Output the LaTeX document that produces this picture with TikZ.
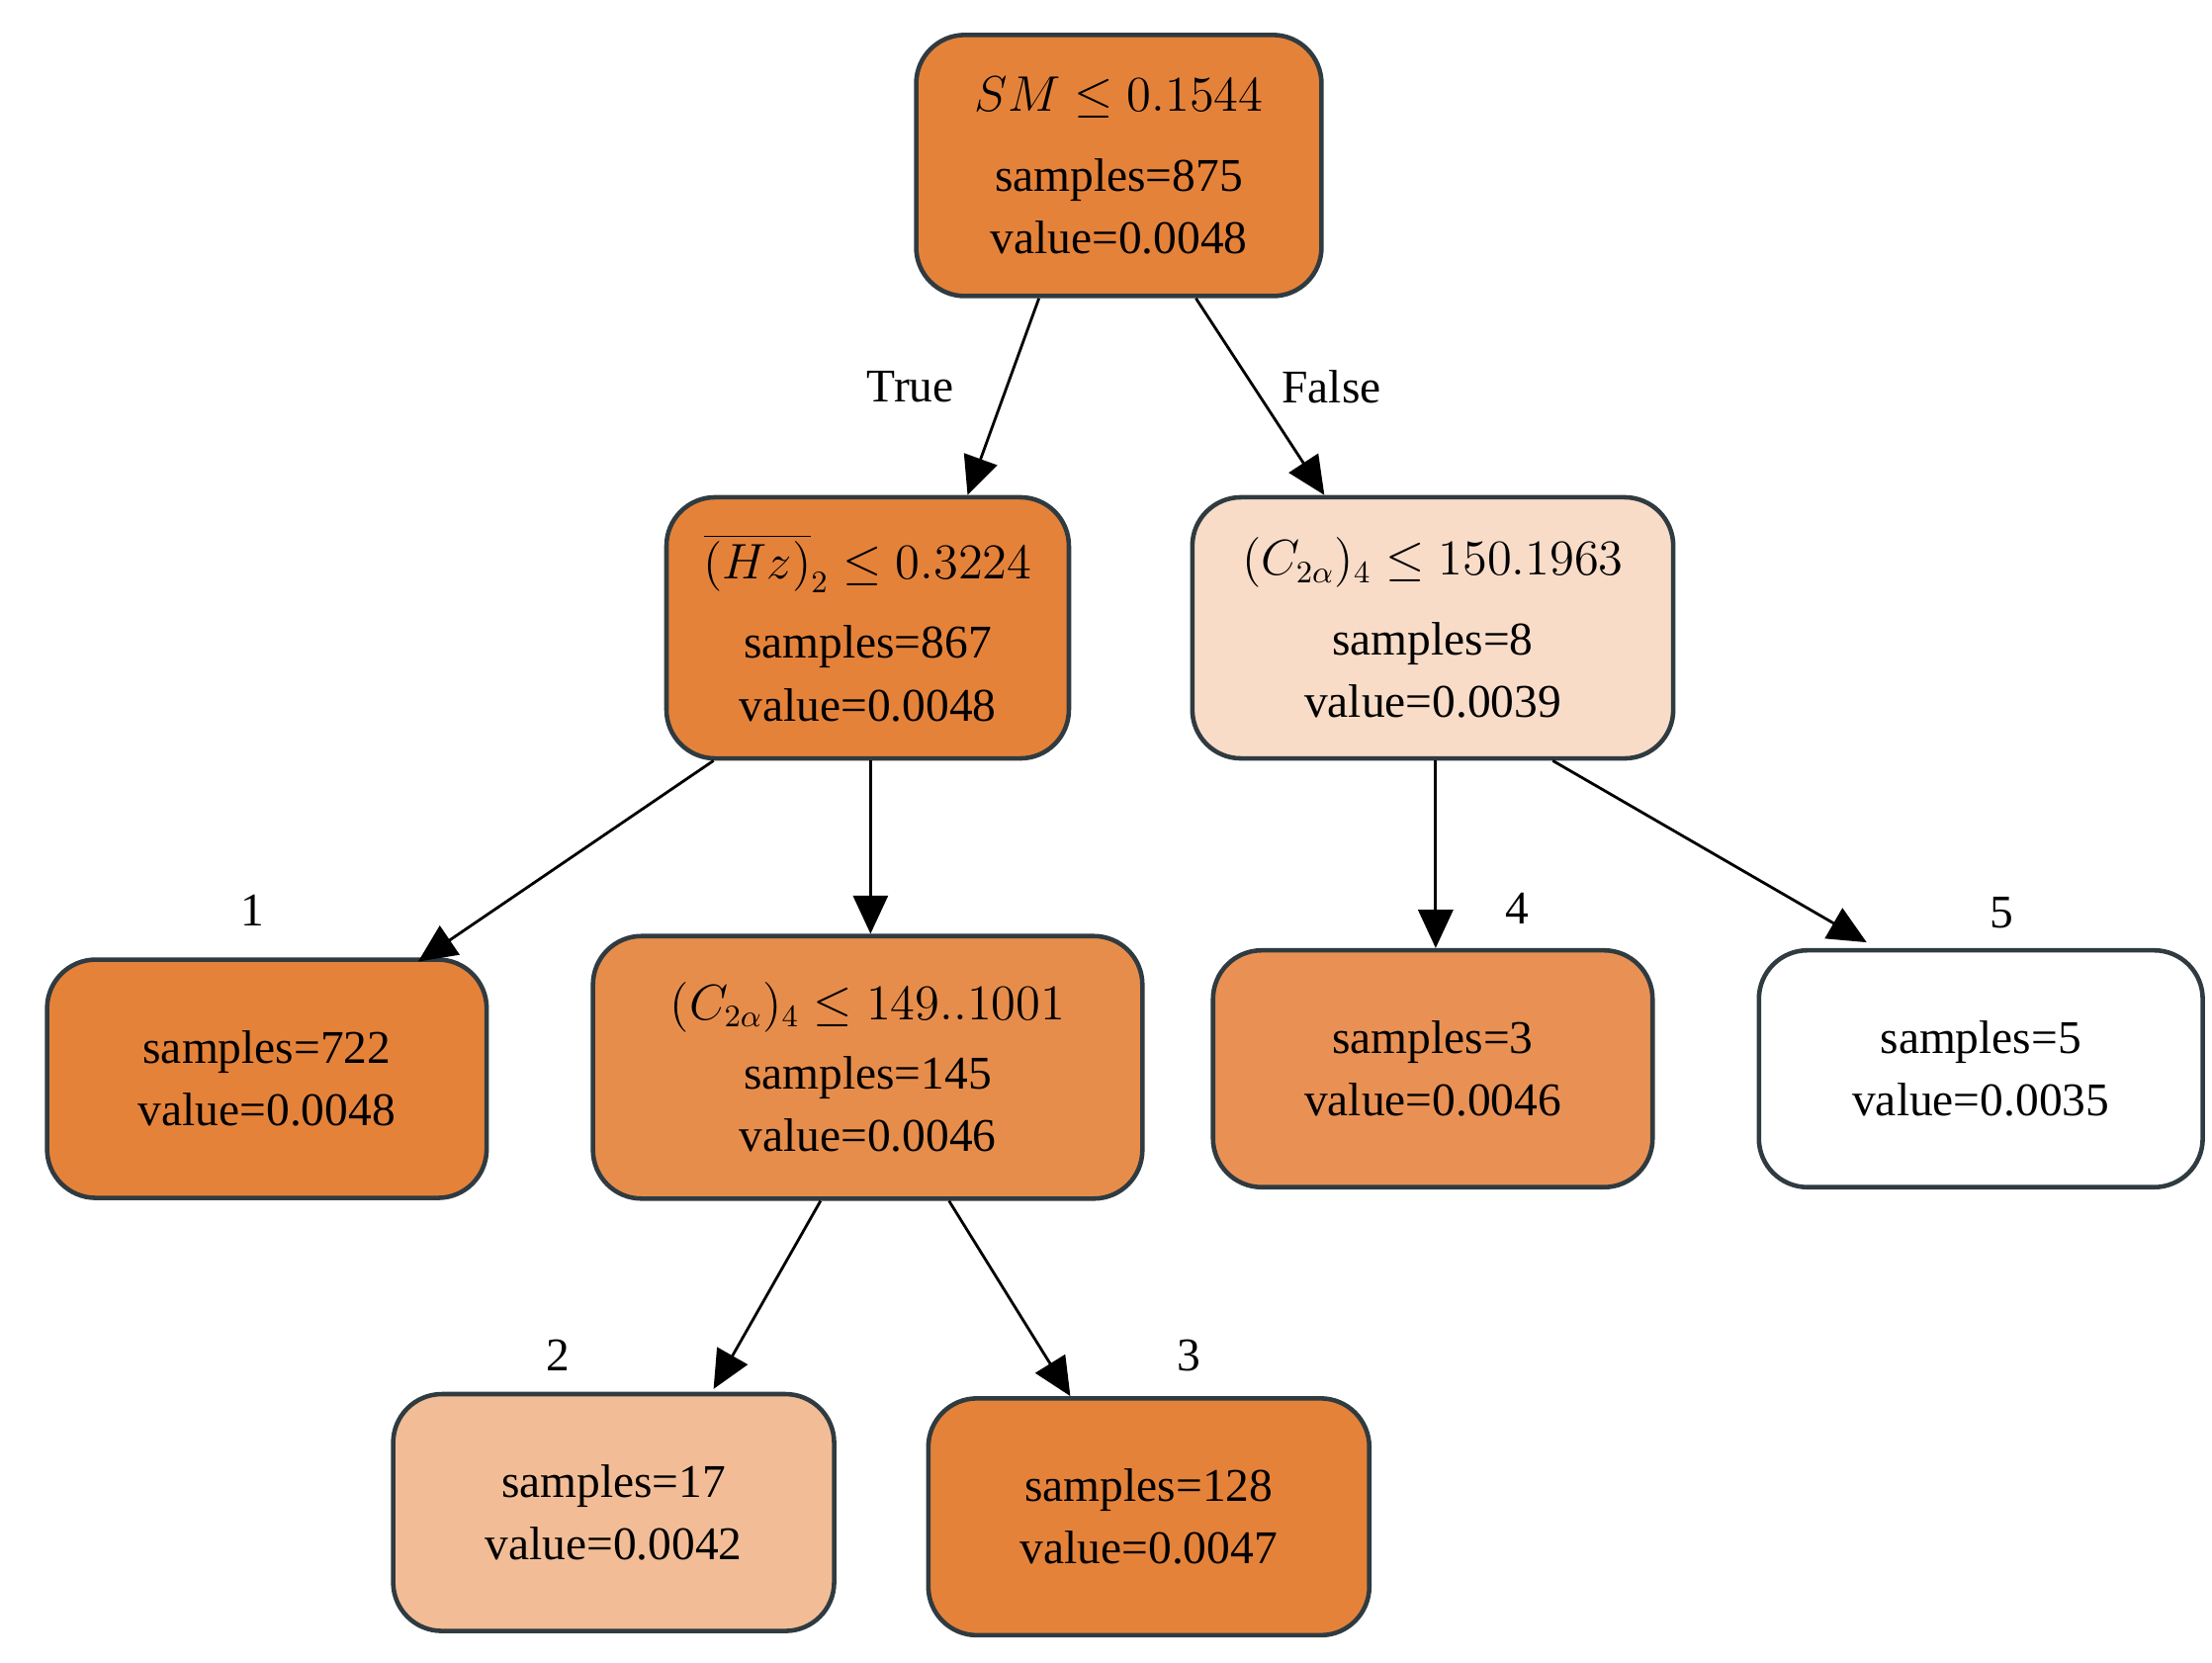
\documentclass[tikz,border=0pt]{standalone}
\usepackage{fontspec}
\setmainfont{Liberation Serif}
\usetikzlibrary{arrows.meta,calc}
\definecolor{c0}{HTML}{E5823A}
\definecolor{c1}{HTML}{F8DCC8}
\definecolor{c2}{HTML}{F2BD96}
\definecolor{c3}{HTML}{E78D4B}
\definecolor{c4}{HTML}{E99154}
\definecolor{bd}{HTML}{2F3B40}
\begin{document}
\begin{tikzpicture}[x=0.01443cm,y=-0.01443cm,
  box/.style={draw=bd,line width=1.3pt,rounded corners=14pt,align=center,inner sep=0pt,
    font=\fontsize{13.5}{18}\selectfont},
  arr/.style={line width=0.8pt,-{Triangle[length=11pt,width=10pt]}},
  lab/.style={font=\fontsize{13.5}{16}\selectfont}]
\useasboundingbox (0,0) rectangle (1550,1165);
\node[box,fill=c0,minimum width=284*0.01443cm,minimum height=183*0.01443cm] (r) at (784,116) {$SM \leq 0.1544$\\[5pt] samples=875\\ value=0.0048};
\node[box,fill=c0,minimum width=282*0.01443cm,minimum height=183*0.01443cm] (n1) at (608,440) {$\overline{(Hz)}_2 \leq 0.3224$\\[5pt] samples=867\\ value=0.0048};
\node[box,fill=c1,minimum width=337*0.01443cm,minimum height=183*0.01443cm] (n2) at (1004,440) {$(C_{2\alpha})_4 \leq 150.1963$\\[5pt] samples=8\\ value=0.0039};
\node[box,fill=c0,minimum width=308*0.01443cm,minimum height=167*0.01443cm] (l1) at (187,756) {samples=722\\ value=0.0048};
\node[box,fill=c3,minimum width=385*0.01443cm,minimum height=184*0.01443cm] (n3) at (608,748) {$(C_{2\alpha})_4 \leq 149..1001$\\[2pt] samples=145\\ value=0.0046};
\node[box,fill=c4,minimum width=308*0.01443cm,minimum height=166*0.01443cm] (l4) at (1004,749) {samples=3\\ value=0.0046};
\node[box,fill=white,minimum width=311*0.01443cm,minimum height=166*0.01443cm] (l5) at (1388,749) {samples=5\\ value=0.0035};
\node[box,fill=c2,minimum width=309*0.01443cm,minimum height=166*0.01443cm] (l2) at (430,1060) {samples=17\\ value=0.0042};
\node[box,fill=c0,minimum width=309*0.01443cm,minimum height=166*0.01443cm] (l3) at (805,1063) {samples=128\\ value=0.0047};
\draw[arr] ($(r.south)+(-56,0)$) -- ($(n1.north)+(70,0)$);
\draw[arr] ($(r.south)+(54,0)$) -- ($(n2.north)+(-76,0)$);
\draw[arr] ($(n1.south)+(-108,0)$) -- ($(l1.north)+(106,3)$);
\draw[arr] ($(n1.south)+(2,0)$) -- ($(n3.north)+(2,0)$);
\draw[arr] ($(n3.south)+(-33,0)$) -- ($(l2.north)+(70,-2)$);
\draw[arr] ($(n3.south)+(57,0)$) -- ($(l3.north)+(-55,0)$);
\draw[arr] ($(n2.south)+(2,0)$) -- ($(l4.north)+(2,0)$);
\draw[arr] ($(n2.south)+(84,0)$) -- ($(l5.north)+(-80,-4)$);
\node[lab] (t) at (638,271) {True};
\node[lab] (f) at (933,271) {False};
\node[lab] (k1) at (177,638) {1};
\node[lab] (k2) at (391,950) {2};
\node[lab] (k3) at (833,950) {3};
\node[lab] (k4) at (1063,637) {4};
\node[lab] (k5) at (1403,640) {5};
\end{tikzpicture}
\end{document}
